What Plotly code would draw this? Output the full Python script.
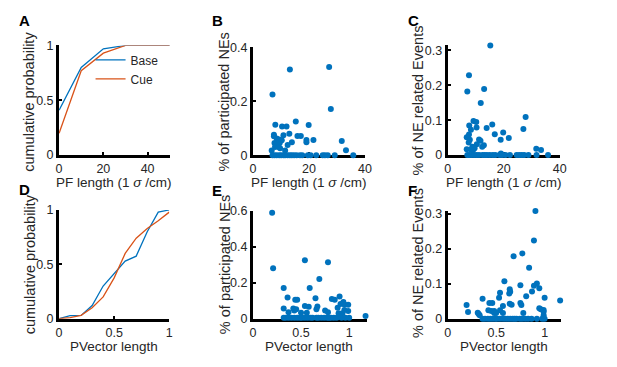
import plotly.graph_objects as go

W, H = 617, 367
BLUE = "#0072BD"
RED = "#D95319"
FONT = "Arial, Liberation Sans, sans-serif"

# ---- Panel A: CDF of PF length
a_x = [0, 10, 20, 30, 40, 50]
a_base = [0.41, 0.80, 0.97, 1.0, 1.0, 1.0]
a_cue = [0.20, 0.77, 0.93, 1.0, 1.0, 1.0]

# ---- Panel D: CDF of PVector length
d_x = [0, 0.1, 0.2, 0.3, 0.4, 0.5, 0.6, 0.7, 0.8, 0.9, 1.0]
d_base = [0.0, 0.027, 0.03, 0.12, 0.30, 0.42, 0.53, 0.575, 0.80, 0.98, 1.0]
d_cue = [0.0, 0.01, 0.03, 0.10, 0.20, 0.375, 0.60, 0.74, 0.83, 0.90, 0.98]

# ---- Panel B: PF length vs % of participated NEs
b_pf = [7.0, 13.2, 27.2, 27.8, 8.0, 10.4, 12.0, 15.3, 19.9, 7.5, 7.5, 10.9, 13.0,
        15.9, 17.1, 8.5, 9.5, 10.3, 19.1, 19.1, 21.6, 31.7, 13.9, 7.7, 8.2, 8.7,
        9.6, 12.4, 7.9, 9.2, 9.7, 6.7, 33.2, 11.5,
        7.0, 7.7, 8.5, 9.4, 10.1, 10.9, 11.5, 12.4, 13.2, 13.9, 14.7, 15.6, 16.8,
        17.6, 19.6, 20.6, 22.6, 24.9, 25.7, 26.7, 29.2, 35.8]
b_ne = [0.225, 0.318, 0.327, 0.171, 0.113, 0.106, 0.106, 0.125, 0.112, 0.076, 0.07,
        0.074, 0.079, 0.071, 0.071, 0.062, 0.058, 0.055, 0.056, 0.048, 0.056, 0.052,
        0.048, 0.045, 0.04, 0.035, 0.046, 0.038, 0.03, 0.03, 0.026, 0.017, 0.018, 0.017,
        0, 0, 0, 0, 0, 0, 0, 0, 0, 0, 0, 0, 0, 0, 0, 0, 0, 0, 0, 0, 0, 0]

# ---- Panel C: PF length vs % of NE related Events
c_pf = [15.2, 7.6, 7.0, 13.0, 11.8, 27.8, 9.2, 10.2, 7.7, 15.9, 10.3, 13.9, 8.3, 27.0,
        16.8, 19.8, 7.6, 6.8, 21.8, 18.9, 7.9, 11.2, 11.7, 7.5, 10.4, 12.9, 12.3, 8.8,
        9.6, 6.8, 8.3, 31.6, 33.3, 9.0, 19.0,
        7.0, 7.7, 8.5, 9.4, 10.3, 11.2, 12.4, 13.2, 14.0, 15.0, 16.1, 17.0, 18.5, 19.4,
        20.6, 22.2, 24.6, 25.5, 26.4, 27.3, 28.8, 31.7, 35.8]
c_ev = [0.314, 0.229, 0.182, 0.189, 0.149, 0.109, 0.098, 0.095, 0.085, 0.088, 0.079,
        0.078, 0.073, 0.075, 0.060, 0.065, 0.059, 0.051, 0.049, 0.044, 0.044, 0.045,
        0.041, 0.036, 0.031, 0.028, 0.024, 0.024, 0.02, 0.017, 0.016, 0.018, 0.015,
        0.013, 0.005,
        0, 0, 0, 0, 0, 0, 0, 0, 0, 0, 0, 0, 0, 0, 0, 0, 0, 0, 0, 0, 0, 0, 0]

# ---- Panel E: PVector length vs % of participated NEs
e_pv = [0.2, 0.21, 0.54, 0.78, 0.69, 0.32, 0.59, 0.36, 0.44, 0.46, 0.65, 0.82, 0.85,
        0.90, 0.94, 0.91, 0.95, 0.99, 0.88, 0.54, 0.58, 0.67, 0.32, 0.42, 0.45, 0.43,
        0.66, 0.75, 0.78, 0.95, 0.99, 0.37, 0.50, 0.56, 0.89, 0.93, 1.17,
        0.32, 0.34, 0.37, 0.40, 0.43, 0.46, 0.49, 0.51, 0.54, 0.57, 0.60, 0.62, 0.66,
        0.68, 0.71, 0.74, 0.77, 0.79, 0.81, 0.84, 0.87, 0.92, 0.96, 1.00]
e_ne = [0.59, 0.28, 0.325, 0.314, 0.221, 0.17, 0.17, 0.118, 0.105, 0.105, 0.114, 0.11,
        0.105, 0.123, 0.093, 0.082, 0.079, 0.077, 0.06, 0.071, 0.066, 0.068, 0.057,
        0.057, 0.052, 0.045, 0.052, 0.046, 0.036, 0.048, 0.043, 0.036, 0.033, 0.033,
        0.03, 0.03, 0.015,
        0.005, 0.005, 0.005, 0.005, 0.005, 0.005, 0.005, 0.005, 0.005, 0.005, 0.005,
        0.005, 0.005, 0.005, 0.005, 0.005, 0.005, 0.005, 0.005, 0.005, 0.005, 0.005,
        0.005, 0.005]

# ---- Panel F: PVector length vs % of NE related Events
f_pv = [0.905, 0.89, 0.68, 0.77, 0.84, 0.585, 0.92, 0.89, 0.945, 0.75, 0.64, 0.645,
        0.635, 0.54, 0.87, 0.81, 0.53, 0.36, 1.0, 1.16, 0.75, 0.76, 0.43, 0.46, 0.195,
        0.64, 0.66, 0.57, 0.42, 0.45, 0.48, 0.54, 0.945, 0.96, 0.99, 0.21, 0.31, 0.32,
        0.33, 0.48, 0.5, 0.57, 0.78, 0.99, 0.99,
        0.36, 0.385, 0.415, 0.44, 0.465, 0.49, 0.51, 0.54, 0.57, 0.595, 0.62, 0.645,
        0.67, 0.69, 0.71, 0.745, 0.77, 0.80, 0.83, 0.865, 0.92, 0.975, 1.0]
f_ev = [0.309, 0.224, 0.179, 0.187, 0.146, 0.107, 0.101, 0.094, 0.087, 0.096, 0.084,
        0.077, 0.072, 0.074, 0.078, 0.064, 0.06, 0.057, 0.06, 0.052, 0.045, 0.039,
        0.045, 0.045, 0.039, 0.043, 0.04, 0.036, 0.024, 0.022, 0.022, 0.024, 0.03,
        0.027, 0.025, 0.019, 0.017, 0.013, 0.01, 0.016, 0.016, 0.016, 0.016, 0.02, 0.01,
        0, 0, 0, 0, 0, 0, 0, 0, 0, 0, 0, 0, 0, 0, 0, 0, 0, 0, 0, 0, 0, 0, 0]

# tick labels
a_xt = [0, 20, 40]; a_yt = [0, 0.5, 1]
b_xt = [0, 20, 40]; b_yt = [0, 0.2, 0.4]
c_xt = [0, 20, 40]; c_yt = [0, 0.1, 0.2, 0.3]
d_xt = [0, 0.5, 1]; d_yt = [0, 0.5, 1]
e_xt = [0, 0.5, 1]; e_yt = [0, 0.2, 0.4, 0.6]
f_xt = [0, 0.5, 1]; f_yt = [0, 0.1, 0.2, 0.3]

pf_title = "PF length (1 <i>σ</i> /cm)"
pv_title = "PVector length"

fig = go.Figure()

# pixel boxes: (left, right, top, bottom), ranges
panels = [
    dict(box=(57, 169.5, 40, 154), xr=[0, 50], yr=[0, 1], xt=a_xt, yt=a_yt),
    dict(box=(254, 368, 42, 154), xr=[0, 40], yr=[0, 0.4], xt=b_xt, yt=b_yt),
    dict(box=(452, 566, 40, 154), xr=[0, 40], yr=[0, 0.314], xt=c_xt, yt=c_yt),
    dict(box=(57, 169, 211, 324), xr=[0, 1], yr=[0, 1], xt=d_xt, yt=d_yt),
    dict(box=(254, 369.5, 212, 324), xr=[0, 1.18], yr=[0, 0.6], xt=e_xt, yt=e_yt),
    dict(box=(452, 567, 212, 324), xr=[0, 1.167], yr=[0, 0.309], xt=f_xt, yt=f_yt),
]

layout = {}
for i, p in enumerate(panels, start=1):
    l, r, t, b = p["box"]
    xa = "xaxis" if i == 1 else "xaxis%d" % i
    ya = "yaxis" if i == 1 else "yaxis%d" % i
    common = dict(showline=True, linewidth=3, linecolor="black", mirror=False,
                  showgrid=False, zeroline=False, ticks="inside", ticklen=3,
                  tickwidth=2, tickcolor="black", layer="below traces",
                  tickfont=dict(family=FONT, size=12.5, color="#262626"), fixedrange=True)
    layout[xa] = dict(domain=[l / W, r / W], range=p["xr"], anchor="y" if i == 1 else "y%d" % i,
                      tickvals=p["xt"], ticktext=["%g" % v for v in p["xt"]], **common)
    layout[ya] = dict(domain=[1 - b / H, 1 - t / H], range=p["yr"], anchor="x" if i == 1 else "x%d" % i,
                      tickvals=p["yt"], ticktext=["%g" % v for v in p["yt"]], **common)

fig.update_layout(**layout)

def ax(i):
    return ("x" if i == 1 else "x%d" % i), ("y" if i == 1 else "y%d" % i)

# CDF lines
xa, ya = ax(1)
fig.add_trace(go.Scatter(x=a_x, y=a_base, mode="lines", line=dict(color=BLUE, width=1.3),
                         name="Base", xaxis=xa, yaxis=ya, cliponaxis=False))
fig.add_trace(go.Scatter(x=a_x, y=a_cue, mode="lines", line=dict(color=RED, width=1.3),
                         name="Cue", xaxis=xa, yaxis=ya, cliponaxis=False))
xa, ya = ax(4)
fig.add_trace(go.Scatter(x=d_x, y=d_base, mode="lines", line=dict(color=BLUE, width=1.3),
                         showlegend=False, xaxis=xa, yaxis=ya, cliponaxis=False))
fig.add_trace(go.Scatter(x=d_x, y=d_cue, mode="lines", line=dict(color=RED, width=1.3),
                         showlegend=False, xaxis=xa, yaxis=ya, cliponaxis=False))

for i, (xs, ys) in {2: (b_pf, b_ne), 3: (c_pf, c_ev), 5: (e_pv, e_ne), 6: (f_pv, f_ev)}.items():
    xa, ya = ax(i)
    fig.add_trace(go.Scatter(x=xs, y=ys, mode="markers",
                             marker=dict(color=BLUE, size=6, line=dict(width=0)),
                             showlegend=False, xaxis=xa, yaxis=ya, cliponaxis=False))

ann = []
def text(x, y, s, size=13.5, angle=0, bold=False):
    ann.append(dict(x=x / W, y=1 - y / H, xref="paper", yref="paper",
                    text=("<b>%s</b>" % s) if bold else s,
                    showarrow=False, textangle=angle, xanchor="center", yanchor="middle",
                    font=dict(family=FONT, size=size, color="black" if bold else "#262626")))

# panel letters
for (x, y, s) in [(22, 14, "A"), (218, 14.5, "B"), (417, 14.5, "C"),
                  (21.5, 190, "D"), (218, 191, "E"), (416, 191, "F")]:
    text(x, y, s, size=15, bold=True)

# y titles
text(27, 99, "cumulative probability", size=14.5, angle=-90)
text(27, 268, "cumulative probability", size=14.5, angle=-90)
text(225, 99, "% of participated NEs", size=14.5, angle=-90)
text(225, 268, "% of participated NEs", size=14.5, angle=-90)
text(422, 97, "% of NE related Events", size=14.5, angle=-90)
text(422, 266, "% of NE related Events", size=14.5, angle=-90)
# x titles
text(112.5, 182, pf_title)
text(311, 182, pf_title)
text(509, 182, pf_title)
text(113, 352.5, pv_title)
text(311, 352.5, pv_title)
text(509, 352.5, pv_title)

fig.update_layout(
    width=W, height=H, margin=dict(l=0, r=0, t=0, b=0),
    paper_bgcolor="white", plot_bgcolor="white",
    annotations=ann,
    showlegend=True,
    legend=dict(x=89 / W, y=1 - 40 / H, xanchor="left", yanchor="top",
                bgcolor="rgba(0,0,0,0)", borderwidth=0, tracegroupgap=0,
                font=dict(family=FONT, size=12, color="#262626")),
)

fig.write_html("out.html", config={"displayModeBar": False},
               post_script="document.body.style.margin='0';document.body.style.overflow='hidden';")
